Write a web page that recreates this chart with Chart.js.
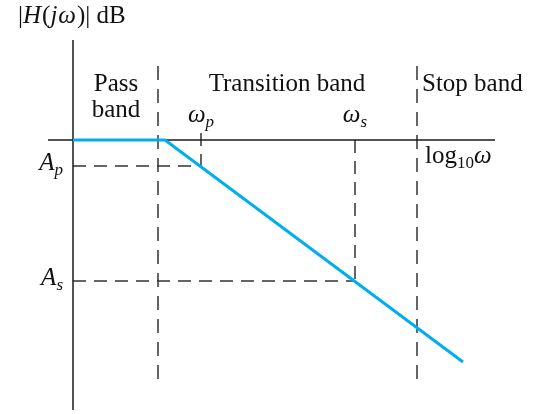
<!DOCTYPE html>
<html>
<head>
<meta charset="utf-8">
<script src="https://cdn.jsdelivr.net/npm/chart.js@4"></script>
<style>
    body { margin: 0; background: #fff; }
    #wrap { width: 543px; height: 414px; }
</style>
</head>
<body>
<div id="wrap"><canvas id="filterChart" width="543" height="414"></canvas></div>
<script>
// Values (x: log10 w, arbitrary units; y: |H(jw)| dB, arbitrary units)
const responseX = [0, 9.2, 39.0];        // flat pass band, then roll-off
const responseY = [0, 0, -22.2];

const bandEdges = [8.5, 34.4];           // pass | transition | stop
const bandEdgeTop = 7.4;
const bandEdgeBottom = -24.7;

const freqMarks = [12.8, 28.2];          // w_p, w_s
const freqMarkTop = [0.7, 0];
const gainMarks = [-2.6, -14.1];         // A_p, A_s

const xAxisRange = [-2.5, 42.2];
const yAxisRange = [-27.0, 10.0];

const bandLabels = [["Pass", "band"], ["Transition band"], ["Stop band"]];
const bandLabelX = [4.3, 21.4, 34.9];

const serif = '"Liberation Serif", "Times New Roman", serif';
const dashColor = "#333333";

// –ª–∏–Ω–∏–∏ —Å—Ç—Ä–æ–∏–º –∏–∑ –º–∞—Å—Å–∏–≤–æ–≤ –≤—ã—à–µ
const datasets = [];

datasets.push({
    data: responseX.map((x, i) => ({ x: x, y: responseY[i] })),
    borderColor: "#00AEEF",
    borderWidth: 3,
    order: 0
});

// axes
datasets.push({
    data: [{ x: xAxisRange[0], y: 0 }, { x: xAxisRange[1], y: 0 }],
    borderColor: "#1a1a1a",
    borderWidth: 1.5,
    order: 1
});
datasets.push({
    data: [{ x: 0, y: yAxisRange[0] }, { x: 0, y: yAxisRange[1] }],
    borderColor: "#1a1a1a",
    borderWidth: 1.5,
    order: 1
});

// band edges
bandEdges.forEach(x => {
    datasets.push({
        data: [{ x: x, y: bandEdgeTop }, { x: x, y: bandEdgeBottom }],
        borderColor: dashColor,
        borderWidth: 1.5,
        borderDash: [14, 9],
        order: 2
    });
});

// w_p / w_s verticals and A_p / A_s horizontals
freqMarks.forEach((x, i) => {
    datasets.push({
        data: [{ x: x, y: freqMarkTop[i] }, { x: x, y: gainMarks[i] }],
        borderColor: dashColor,
        borderWidth: 1.5,
        borderDash: [13, 8],
        order: 2
    });
    datasets.push({
        data: [{ x: 0, y: gainMarks[i] }, { x: x, y: gainMarks[i] }],
        borderColor: dashColor,
        borderWidth: 1.5,
        borderDash: [13, 8],
        order: 2
    });
});

datasets.forEach(d => {
    d.showLine = true;
    d.pointRadius = 0;
    d.fill = false;
    d.tension = 0;
});

// –¢–µ–∫—Å—Ç —Å –∫—É—Ä—Å–∏–≤–æ–º –∏ –∏–Ω–¥–µ–∫—Å–∞–º–∏
function drawRuns(ctx, runs, px, py, align) {
    const fontFor = r => (r.it ? "italic " : "") + (r.sub ? "17px " : "25px ") + serif;
    let total = 0;
    runs.forEach(r => {
        ctx.font = fontFor(r);
        r.w = ctx.measureText(r.t).width + (r.gap || 0);
        total += r.w;
    });
    let x = px;
    if (align === "center") x = px - total / 2;
    if (align === "right") x = px - total;
    runs.forEach(r => {
        ctx.font = fontFor(r);
        ctx.fillText(r.t, x, py + (r.sub ? 5 : 0));
        x += r.w;
    });
}

const labelPlugin = {
    id: "labels",
    afterDatasetsDraw(chart) {
        const ctx = chart.ctx;
        const xs = chart.scales.x;
        const ys = chart.scales.y;
        const X = v => xs.getPixelForValue(v);
        const Y = v => ys.getPixelForValue(v);

        ctx.save();
        ctx.fillStyle = "#111";
        ctx.textBaseline = "alphabetic";

        // |H(jw)| dB
        drawRuns(ctx, [
            { t: "|" }, { t: "H", it: true, gap: 1 }, { t: "(" }, { t: "j", it: true, gap: 1 },
            { t: "\u03C9", it: true, gap: 1 }, { t: ")" }, { t: "| dB" }
        ], X(-5.5), Y(11.7), "left");

        // band names
        bandLabels.forEach((lines, i) => {
            ctx.font = "25px " + serif;
            ctx.textAlign = i === 2 ? "left" : "center";
            lines.forEach((t, j) => ctx.fillText(t, X(bandLabelX[i]), Y(4.9 - j * 2.6)));
        });
        ctx.textAlign = "left";

        // w_p, w_s
        drawRuns(ctx, [{ t: "\u03C9", it: true }, { t: "p", it: true, sub: true }], X(freqMarks[0]), Y(1.8), "center");
        drawRuns(ctx, [{ t: "\u03C9", it: true }, { t: "s", it: true, sub: true }], X(freqMarks[1]), Y(1.8), "center");

        // log10 w
        drawRuns(ctx, [{ t: "log" }, { t: "10", sub: true }, { t: "\u03C9", it: true }], X(35.2), Y(-2.3), "left");

        // A_p, A_s
        drawRuns(ctx, [{ t: "A", it: true }, { t: "p", it: true, sub: true }], X(-1.0), Y(gainMarks[0] - 0.4), "right");
        drawRuns(ctx, [{ t: "A", it: true }, { t: "s", it: true, sub: true }], X(-1.0), Y(gainMarks[1] - 0.4), "right");

        ctx.restore();
    }
};

const ctx = document.getElementById("filterChart").getContext("2d");
new Chart(ctx, {
    type: "scatter",
    data: { datasets: datasets },
    options: {
        responsive: false,
        animation: false,
        devicePixelRatio: 1,
        layout: { padding: 0 },
        plugins: {
            legend: { display: false },
            tooltip: { enabled: false }
        },
        scales: {
            x: { type: "linear", min: -7.3, max: 47.0, display: false },
            y: { type: "linear", min: -27.4, max: 14.0, display: false }
        }
    },
    plugins: [labelPlugin]
});
</script>
</body>
</html>
